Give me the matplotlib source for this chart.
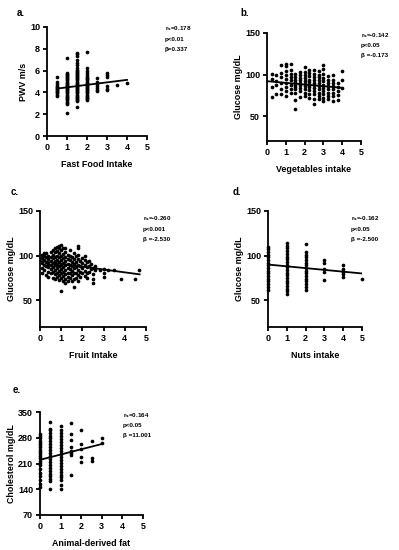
import matplotlib
matplotlib.use("Agg")
import matplotlib.pyplot as plt

plt.rcParams['font.family'] = ['Liberation Sans', 'DejaVu Sans']
plt.rcParams['font.weight'] = 'bold'

# -----------------------------
# a. Fast food vs PWV
# -----------------------------
a_x = [0.5, 1.0, 1.5, 2.0, 2.5, 3.0, 3.5, 4.0]
a_y = [
    [3.7, 3.8, 3.9, 4.0, 4.1, 4.2, 4.3, 4.4, 4.5, 4.6, 4.8, 5.0, 5.4],
    [2.1, 2.9, 3.0, 3.1, 3.3, 3.4, 3.5, 3.6, 3.7, 3.8, 3.9, 4.0, 4.1, 4.2, 4.3,
     4.4, 4.5, 4.6, 4.7, 4.8, 4.9, 5.0, 5.1, 5.2, 5.3, 5.4, 5.5, 5.6, 5.7, 5.8, 7.2],
    [2.7, 3.2, 3.3, 3.4, 3.5, 3.6, 3.7, 3.8, 3.9, 4.0, 4.1, 4.2, 4.3, 4.4, 4.5,
     4.6, 4.7, 4.8, 4.9, 5.0, 5.1, 5.2, 5.3, 5.4, 5.5, 5.6, 5.7, 5.8, 5.9, 6.0,
     6.1, 6.2, 6.5, 6.7, 7.0, 7.3, 7.5, 7.6],
    [3.3, 3.4, 3.5, 3.6, 3.7, 3.8, 3.9, 4.0, 4.1, 4.2, 4.3, 4.4, 4.5, 4.6, 4.7,
     4.8, 4.9, 5.0, 5.1, 5.2, 5.3, 5.4, 5.6, 5.8, 6.0, 6.2, 7.7],
    [4.1, 4.2, 4.4, 4.6, 4.8, 5.0, 5.3],
    [4.2, 4.3, 4.6, 5.4, 5.6, 5.8],
    [4.7],
    [4.9],
]
a_line_x = [0.5, 4.0]
a_line_y = [4.35, 5.15]
a_stats = ["r$_{\\rm s}$=0.178", "p<0.01", "β=0.337"]

# -----------------------------
# b. Vegetables vs glucose
# -----------------------------
b_x = [0.25, 0.5, 0.75, 1.0, 1.25, 1.5, 1.75, 2.0, 2.25, 2.5, 2.75, 3.0,
       3.25, 3.5, 3.75, 4.0]
b_y = [
    [73, 85, 95, 101],
    [77, 87, 92, 100],
    [76, 82, 90, 97, 102, 112],
    [74, 80, 85, 90, 95, 100, 104, 110, 113],
    [78, 83, 88, 93, 97, 101, 106, 113],
    [59, 69, 78, 82, 85, 88, 91, 94, 97, 101],
    [73, 80, 84, 87, 90, 93, 96, 100, 103],
    [74, 78, 82, 86, 89, 92, 96, 100, 103, 109],
    [72, 77, 81, 85, 88, 91, 94, 98, 102, 106],
    [65, 71, 76, 80, 84, 87, 90, 94, 97, 101, 106],
    [70, 74, 78, 82, 86, 90, 93, 97, 100, 104],
    [68, 72, 76, 80, 84, 88, 92, 96, 101, 107, 112],
    [70, 74, 78, 82, 86, 90, 94, 98],
    [68, 74, 78, 82, 86, 90, 94, 100],
    [69, 75, 80, 85, 90],
    [84, 93, 104],
]
b_line_x = [0.0, 4.0]
b_line_y = [92, 84]
b_stats = ["r$_{\\rm s}$=-0.142", "p<0.05", "β =-0.173"]

# -----------------------------
# c. Fruit vs glucose
# -----------------------------
c_x = [0.1, 0.2, 0.3, 0.4, 0.5, 0.6, 0.7, 0.8, 0.9, 1.0, 1.1, 1.2, 1.3, 1.4,
       1.5, 1.6, 1.7, 1.8, 1.9, 2.0, 2.1, 2.2, 2.3, 2.4, 2.5, 2.6, 2.85, 3.0,
       3.2, 3.5, 3.8, 4.5, 4.65]
c_y = [
    [80, 86, 92, 97, 101],
    [84, 90, 95, 100, 103],
    [78, 88, 93, 98, 103],
    [76, 82, 87, 91, 96, 100],
    [80, 85, 89, 94, 99, 104],
    [75, 82, 87, 92, 97, 101, 106],
    [74, 79, 84, 89, 94, 99, 104, 109],
    [76, 81, 86, 90, 95, 100, 105, 110],
    [73, 78, 83, 88, 93, 98, 103, 108, 111],
    [60, 75, 80, 85, 90, 95, 100, 106, 112],
    [72, 77, 82, 87, 92, 97, 102, 108],
    [69, 74, 79, 84, 89, 94, 99, 104, 109],
    [71, 76, 81, 86, 91, 96, 101],
    [75, 80, 85, 90, 95, 100, 106],
    [72, 78, 83, 88, 93, 98],
    [65, 74, 80, 86, 91, 96, 103],
    [75, 81, 87, 93, 100],
    [72, 78, 84, 90, 96, 101, 109, 111],
    [76, 82, 88, 94],
    [80, 86, 92, 97],
    [77, 83, 89, 95, 100],
    [75, 81, 87, 93],
    [82, 88, 94],
    [85, 91],
    [69, 74, 79, 86],
    [84, 88],
    [84],
    [76, 81, 85],
    [84],
    [84],
    [74],
    [74],
    [84],
]
c_line_x = [0.0, 4.7]
c_line_y = [94, 79]
c_stats = ["r$_{\\rm s}$=-0.260", "p<0.001", "β =-2.530"]

# -----------------------------
# d. Nuts vs glucose
# -----------------------------
d_x = [0, 1, 2, 3, 4, 5]
d_y = [
    [62, 65, 68, 71, 74, 77, 80, 83, 86, 89, 92, 95, 98, 101, 104, 107, 110],
    [57, 60, 63, 66, 69, 72, 75, 78, 81, 84, 87, 90, 93, 96, 99, 102, 105,
     108, 111, 114],
    [62, 65, 68, 71, 74, 77, 80, 83, 86, 89, 92, 95, 98, 101, 104, 113],
    [73, 82, 85, 92, 95],
    [76, 79, 82, 85, 89],
    [74],
]
d_line_x = [0, 5]
d_line_y = [90, 80]
d_stats = ["r$_{\\rm s}$=-0.162", "p<0.05", "β =-2.500"]

# -----------------------------
# e. Animal-derived fat vs cholesterol
# -----------------------------
e_x = [0.0, 0.5, 1.0, 1.5, 2.0, 2.5, 3.0]
e_y = [
    [145, 155, 165, 175, 185, 195, 205, 212, 218, 224, 230, 236, 242, 248,
     254, 260, 266, 272, 278, 284, 290],
    [140, 162, 168, 175, 182, 190, 198, 206, 214, 222, 230, 238, 246, 254,
     262, 270, 278, 286, 294, 300, 305, 322],
    [140, 152, 165, 172, 180, 188, 196, 204, 212, 220, 228, 236, 244, 252,
     260, 268, 276, 284, 292, 300, 312],
    [180, 232, 238, 245, 255, 275, 290, 320],
    [215, 228, 250, 262, 300],
    [218, 224, 270],
    [266, 280],
]
e_line_x = [0.0, 3.0]
e_line_y = [220, 263]
e_stats = ["r$_{\\rm s}$=0.164", "p<0.05", "β =11.001"]

W, H = 399, 550
fig = plt.figure(figsize=(W / 100, H / 100), dpi=100)


def make_panel(box, xs, ys, lx, ly, ylim, yticks, xlabel, ylabel, letter,
               letter_xy, stats, stats_xy, ylabelpad):
    left, top, right, bottom = box
    ax = fig.add_axes([left / W, 1 - bottom / H, (right - left) / W,
                       (bottom - top) / H])
    for x, col in zip(xs, ys):
        ax.scatter([x] * len(col), col, s=7, c='black', linewidths=0,
                   clip_on=False, zorder=3)
    ax.plot(lx, ly, color='black', lw=1.3, zorder=4)
    ax.set_xlim(0, 5)
    ax.set_ylim(*ylim)
    ax.set_xticks([0, 1, 2, 3, 4, 5])
    ax.set_yticks(yticks)
    for side in ['top', 'right']:
        ax.spines[side].set_visible(False)
    for side in ['left', 'bottom']:
        ax.spines[side].set_linewidth(1.3)
    ax.tick_params(direction='out', length=3, width=1.3, labelsize=6.5,
                   pad=2)
    for lab in ax.get_xticklabels() + ax.get_yticklabels():
        lab.set_fontweight('bold')
    ax.set_xlabel(xlabel, fontsize=6.4, fontweight='bold', labelpad=6)
    ax.set_ylabel(ylabel, fontsize=6.4, fontweight='bold', labelpad=ylabelpad)
    fig.text(letter_xy[0] / W, 1 - letter_xy[1] / H, letter, fontsize=7,
             fontweight='bold', va='center', ha='left')
    for i, s in enumerate(stats):
        fig.text(stats_xy[0] / W, 1 - (stats_xy[1] + i * 10) / H, s,
                 fontsize=4.5, fontweight='bold', va='center', ha='left')
    return ax


make_panel((47, 27, 147, 136), a_x, a_y, a_line_x, a_line_y, (0, 10),
           [0, 2, 4, 6, 8, 10], "Fast Food Intake", "PWV m/s", "a.",
           (17, 13), a_stats, (165, 29), 1.5)
make_panel((267, 33, 361, 141), b_x, b_y, b_line_x, b_line_y, (20, 150),
           [50, 100, 150], "Vegetables intake", "Glucose mg/dL", "b.",
           (240, 13), b_stats, (361, 36), 1.5)
make_panel((40, 211, 146, 327), c_x, c_y, c_line_x, c_line_y, (20, 150),
           [50, 100, 150], "Fruit Intake", "Glucose mg/dL", "c.",
           (11, 192), c_stats, (143, 219), 1.5)
make_panel((268, 211, 362, 327), d_x, d_y, d_line_x, d_line_y, (20, 150),
           [50, 100, 150], "Nuts intake", "Glucose mg/dL", "d.",
           (233, 192), d_stats, (351, 219), 1.5)
make_panel((40, 412, 143, 515), e_x, e_y, e_line_x, e_line_y, (70, 350),
           [70, 140, 210, 280, 350], "Animal-derived fat",
           "Cholesterol mg/dL", "e.", (13, 390), e_stats, (123, 416), 1.5)

fig.savefig("out.png", dpi=100)
